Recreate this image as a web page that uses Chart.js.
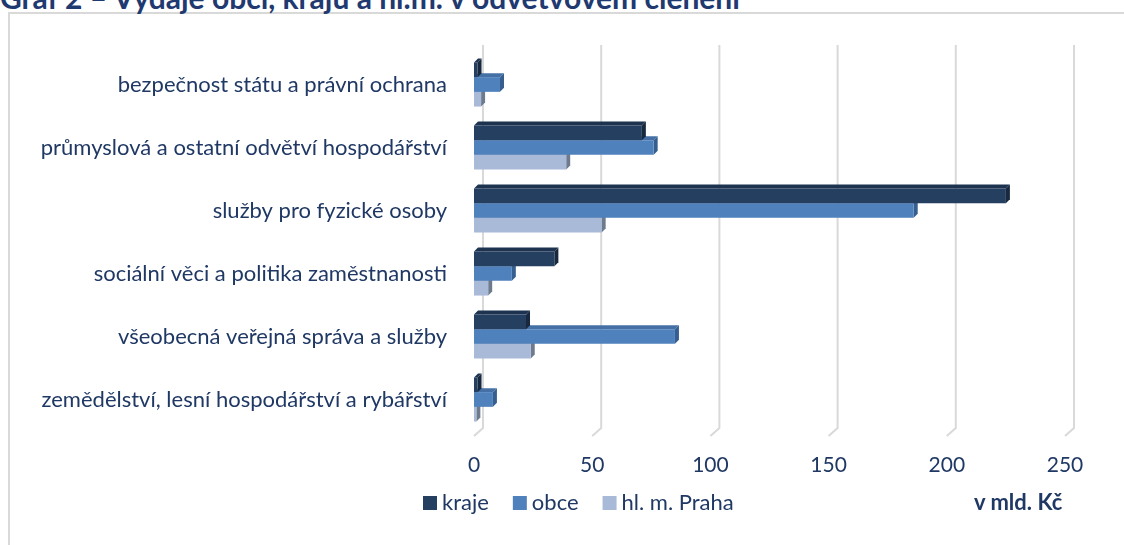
<!DOCTYPE html>
<html>
<head>
<meta charset="utf-8">
<script src="https://cdn.jsdelivr.net/npm/chart.js@4"></script>
<style>
  html,body{margin:0;padding:0;background:#fff;overflow:hidden;}
  #wrap{position:relative;width:1124px;height:545px;overflow:hidden;}
  #title{position:absolute;left:0;top:-18px;font:bold 30px Lato, "Open Sans", sans-serif;line-height:30px;color:#1F3A70;white-space:nowrap;}
  #frame{position:absolute;left:8px;top:12px;width:1130px;height:560px;border:2px solid #d9d9d9;box-sizing:border-box;}
  canvas{position:absolute;left:0;top:0;}
  #unit{position:absolute;left:974px;top:490px;font:bold 22px Lato, sans-serif;line-height:24px;color:#1F3864;}
</style>
</head>
<body>
<div id="wrap">
  <div id="frame"></div>
  <div id="title">Graf 2 – Výdaje obcí, krajů a hl.m. v odvětvovém členění</div>
  <canvas id="c" width="1124" height="545"></canvas>
  <div id="unit">v mld. Kč</div>
</div>
<script>
const categories = [
  "bezpečnost státu a právní ochrana",
  "průmyslová a ostatní odvětví hospodářství",
  "služby pro fyzické osoby",
  "sociální věci a politika zaměstnanosti",
  "všeobecná veřejná správa a služby",
  "zemědělství, lesní hospodářství a rybářství"
];
const kraje = [1.5, 71, 225, 34, 22, 1.5];
const obce  = [11, 76, 186, 16, 85, 8];
const praha = [3, 39, 54, 6, 24, 1];
const xTicks = [0, 50, 100, 150, 200, 250];

const FRONT = ["#243F60", "#4F81BD", "#A9B9D8"];
const SIDE  = ["#17283F", "#365F90", "#6E7A8E"];
const TOP   = ["#1D3350", "#4470A6", "#8E9CB8"];
const D = 4;

const depthPlugin = {
  id: 'depth3d',
  beforeDatasetsDraw(chart) {
    const ctx = chart.ctx;
    const xs = chart.scales.x;
    const ca = chart.chartArea;
    ctx.save();
    ctx.strokeStyle = '#d9d9d9';
    ctx.lineWidth = 2;
    xTicks.forEach(v => {
      const px = xs.getPixelForValue(v);
      ctx.beginPath();
      ctx.moveTo(px + 9, ca.top - 8);
      ctx.lineTo(px + 9, ca.bottom - 3);
      ctx.lineTo(px, ca.bottom + 5);
      ctx.stroke();
    });
    for (let di = chart.data.datasets.length - 1; di >= 0; di--) {
      const meta = chart.getDatasetMeta(di);
      meta.data.forEach(el => {
        const p = el.getProps(['x', 'y', 'base', 'height'], true);
        const t = p.y - p.height / 2, b = p.y + p.height / 2;
        const l = Math.min(p.base, p.x), r = Math.max(p.base, p.x);
        ctx.fillStyle = TOP[di];
        ctx.beginPath();
        ctx.moveTo(l, t); ctx.lineTo(l + D, t - D); ctx.lineTo(r + D, t - D); ctx.lineTo(r, t);
        ctx.closePath(); ctx.fill();
        ctx.fillStyle = SIDE[di];
        ctx.beginPath();
        ctx.moveTo(r, t); ctx.lineTo(r + D, t - D); ctx.lineTo(r + D, b - D); ctx.lineTo(r, b);
        ctx.closePath(); ctx.fill();
      });
    }
    ctx.restore();
  }
};

const FONT = "Lato, 'Open Sans', sans-serif";
const TXT = "#1F3864";

new Chart(document.getElementById('c'), {
  type: 'bar',
  data: {
    labels: categories,
    datasets: [
      { label: 'kraje', data: kraje, backgroundColor: FRONT[0] },
      { label: 'obce', data: obce, backgroundColor: FRONT[1] },
      { label: 'hl. m. Praha', data: praha, backgroundColor: FRONT[2] }
    ]
  },
  options: {
    indexAxis: 'y',
    responsive: false,
    animation: false,
    devicePixelRatio: 1,
    datasets: { bar: { categoryPercentage: 0.7, barPercentage: 1.0 } },
    layout: { padding: { left: 0, right: 59, top: 53, bottom: 0 } },
    scales: {
      x: {
        min: 0, max: 250,
        afterBuildTicks(s) { s.ticks = xTicks.map(v => ({ value: v })); },
        grid: { display: false },
        border: { display: false },
        ticks: { font: { family: FONT, size: 21 }, color: TXT, padding: 14 },
        afterFit(s) { s.height = 545 - 53 - 378; }
      },
      y: {
        grid: { display: false },
        border: { display: false },
        ticks: { font: { family: FONT, size: 22 }, color: TXT, padding: 19 },
        afterFit(s) { s.width = 474; }
      }
    },
    plugins: {
      legend: { display: false },
      tooltip: { enabled: false }
    }
  },
  plugins: [depthPlugin, {
    id: 'canvasLegend',
    afterDraw(chart) {
      const ctx = chart.ctx;
      ctx.save();
      ctx.font = "22px " + FONT;
      ctx.textBaseline = 'middle';
      const items = chart.data.datasets;
      const y = 503;
      let x = 423;
      items.forEach((ds, i) => {
        ctx.fillStyle = FRONT[i];
        ctx.fillRect(x, y - 7, 14, 14);
        ctx.fillStyle = TXT;
        ctx.fillText(ds.label, x + 19, y);
        x += 19 + ctx.measureText(ds.label).width + 24;
      });
      ctx.restore();
    }
  }]
});
</script>
</body>
</html>
